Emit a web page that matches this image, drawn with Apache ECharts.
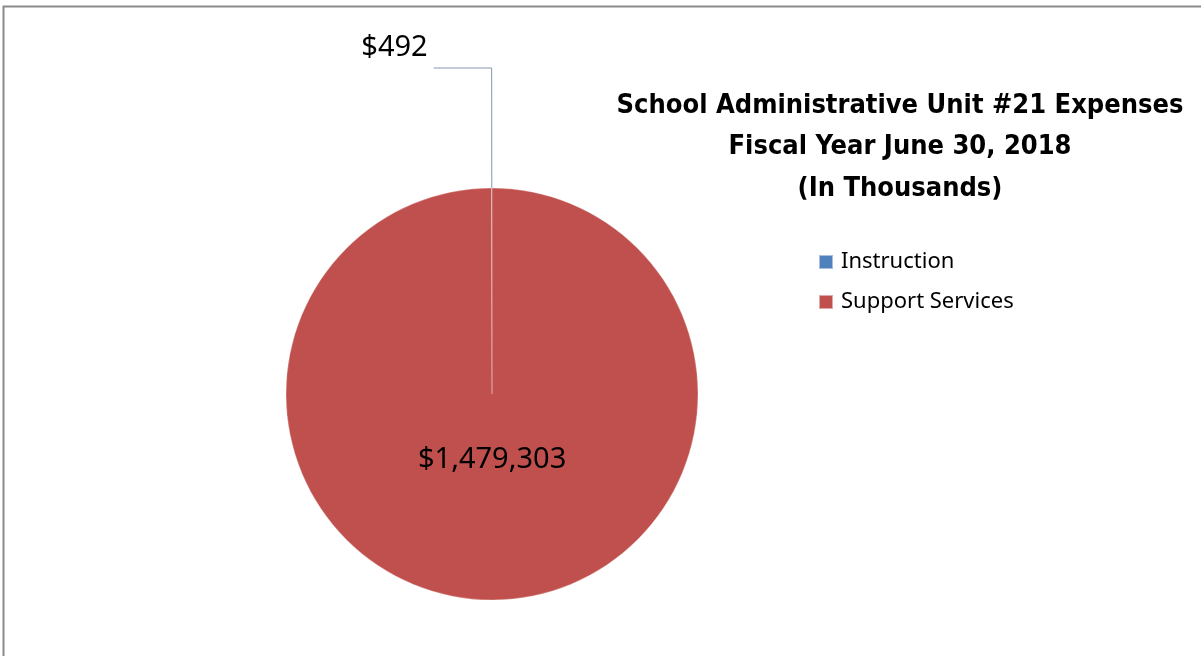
<!DOCTYPE html>
<html>
<head>
<meta charset="utf-8">
<script src="https://cdn.jsdelivr.net/npm/echarts@6/dist/echarts.min.js"></script>
<style>
  html, body { margin: 0; padding: 0; background: #fff; }
  #chart { width: 1201px; height: 656px; }
</style>
</head>
<body>
<div id="chart"></div>
<script>
const titleLines = ['School Administrative Unit #21 Expenses', 'Fiscal Year June 30, 2018', '(In Thousands)'];
const categories = ['Instruction', 'Support Services'];
const values = [492, 1479303];
const sliceColors = ['#4F81BD', '#C0504D'];

const fmt = v => '$' + v.toLocaleString('en-US');

const chart = echarts.init(document.getElementById('chart'), null, { renderer: 'canvas' });

const data = categories.map((name, i) => {
  const item = { name: name, value: values[i], itemStyle: { color: sliceColors[i] } };
  if (i === 0) {
    item.label = {
      position: 'outside',
      fontSize: 29,
      color: '#000',
      fontFamily: 'Noto Sans',
      distanceToLabelLine: 5
    };
    item.labelLine = {
      show: true,
      length: 120,
      length2: 58,
      lineStyle: { color: '#8596ae', width: 1 }
    };
  } else {
    item.label = {
      position: 'inside',
      fontSize: 29,
      color: '#000',
      fontFamily: 'Noto Sans'
    };
    item.labelLine = { show: false };
  }
  return item;
});

chart.setOption({
  backgroundColor: '#fff',
  animation: false,
  title: {
    text: titleLines.join('\n'),
    left: 900,
    top: 85,
    padding: 0,
    textAlign: 'center',
    textStyle: {
      fontFamily: "'Liberation Sans Narrow', 'DejaVu Sans Condensed', 'Noto Sans'",
      fontWeight: 'bold',
      fontSize: 27,
      lineHeight: 41.5,
      color: '#000'
    }
  },
  legend: {
    orient: 'vertical',
    left: 818,
    top: 251,
    padding: 0,
    icon: 'rect',
    itemWidth: 14,
    itemHeight: 14,
    itemGap: 18,
    data: categories,
    textStyle: { fontFamily: 'Noto Sans', fontSize: 22, color: '#000', padding: [0, 0, 0, 3] }
  },
  graphic: [{
    type: 'polyline',
    shape: { points: [[3.5, 700], [3.5, 6.5], [1300, 6.5]] },
    style: { stroke: '#8a8a8a', lineWidth: 2, fill: null },
    silent: true
  }],
  series: [{
    type: 'pie',
    center: [492, 394],
    radius: 206,
    startAngle: 90,
    clockwise: false,
    avoidLabelOverlap: false,
    label: { formatter: p => fmt(p.value) },
    labelLayout: p => (p.dataIndex === 1 ? { dy: -40 } : { dy: -20, dx: -1 }),
    itemStyle: { borderColor: 'rgba(255,255,255,0.5)', borderWidth: 0.6 },
    emphasis: { disabled: true },
    data: data
  }]
});
</script>
</body>
</html>
